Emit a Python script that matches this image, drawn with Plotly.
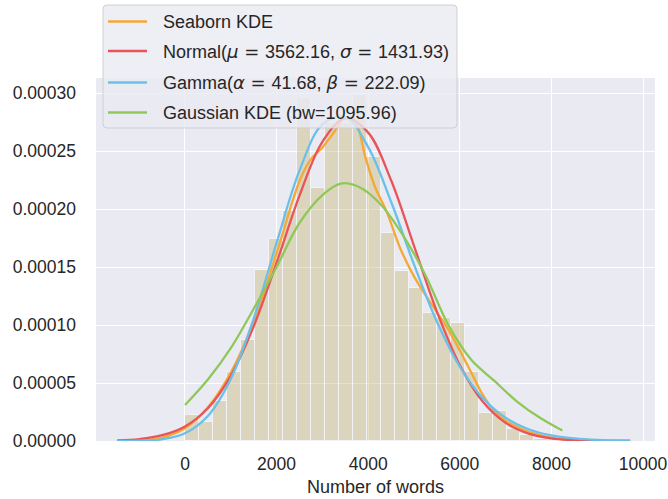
import plotly.graph_objects as go

# ---------------- data ----------------
bin_start = 0.0
bin_width = 305.2
hist_density_e5 = [2.24, 1.61, 3.48, 5.98, 8.70, 14.75, 17.40, 19.80, 29.6, 21.8,
                   27.4, 27.4, 29.8, 24.5, 17.9, 14.7, 13.2, 11.0, 10.6, 10.2,
                   5.97, 2.39, 2.61, 1.0, 0.5, 0.2, 0.2]

fit_x = [-1479, -1000, -500, 0, 500, 1000, 1500, 2000, 2500, 3000, 3500, 4000,
         4500, 5000, 5500, 6000, 6500, 7000, 7500, 8000, 8500, 9000, 9719]
normal_e5 = [0.05, 0.17, 0.50, 1.26, 2.83, 5.62, 9.88, 15.37, 21.16, 25.80, 27.83, 26.59,
             22.48, 16.83, 11.15, 6.54, 3.40, 1.56, 0.64, 0.23, 0.07, 0.02, 0.00]
gamma_e5 = [0.00, 0.02, 0.15, 0.67, 2.16, 5.35, 10.56, 17.08, 23.31, 27.30, 27.93, 25.34,
            20.63, 15.23, 10.29, 6.41, 3.70, 2.00, 1.01, 0.48, 0.22, 0.09, 0.03]

sns_kde_x = [-1479, -1000, -500, 0, 500, 1000, 1500, 2000, 2500, 2750, 3000, 3250, 3500,
             3700, 3950, 4150, 4400, 4700, 5000, 5250, 5500, 5750, 6000, 6250, 6500,
             6750, 7000, 7500, 8000, 8500, 9000, 9719]
sns_kde_e5 = [0.01, 0.05, 0.3, 1.1, 2.9, 5.9, 10.3, 16.2, 22.4, 24.3, 25.3, 26.6, 27.9,
              27.7, 24.3, 21.9, 19.8, 16.6, 14.2, 12.6, 11.1, 9.6, 7.8, 5.9, 4.0,
              2.6, 1.75, 0.8, 0.3, 0.09, 0.02, 0.0]

gkde_x = [0, 500, 1000, 1500, 2000, 2500, 3000, 3400, 3800, 4250, 4750, 5250, 5750,
          6250, 6750, 7250, 7750, 8240]
gkde_e5 = [3.1, 5.3, 8.0, 11.4, 15.0, 18.8, 21.2, 22.2, 21.9, 20.5, 17.8, 14.3, 10.0,
           7.0, 5.2, 3.4, 2.0, 0.9]

x_ticks = [0, 2000, 4000, 6000, 8000, 10000]
x_tick_text = ["0", "2000", "4000", "6000", "8000", "10000"]
x_title = "Number of words"

MATH = "font-family:'DejaVu Sans'"
series_names = ["Seaborn KDE",
                f"Normal(<span style=\"{MATH}\"><i>μ</i> = </span>3562.16, "
                f"<span style=\"{MATH}\"><i>σ</i> = </span>1431.93)",
                f"Gamma(<span style=\"{MATH}\"><i>α</i> = </span>41.68, "
                f"<span style=\"{MATH}\"><i>β</i> = </span>222.09)",
                "Gaussian KDE (bw=1095.96)"]
series_colors = ["#F5A835", "#E8545A", "#6BC0EA", "#8FC858"]

# ---------------- layout geometry (pixels) ----------------
W, H = 668, 499
ML, MR, MT, MB = 96, 13, 78, 58
PW, PH = W - ML - MR, H - MT - MB


def px_x(p):
    return (p - ML) / PW


def px_y(p):
    return (H - MB - p) / PH


def e5(v):
    return [a * 1e-5 for a in v]


centers = [bin_start + (i + 0.5) * bin_width for i in range(len(hist_density_e5))]

fig = go.Figure()
fig.add_trace(go.Bar(x=centers, y=e5(hist_density_e5), width=bin_width,
                     marker=dict(color="rgb(200,183,112)", line=dict(color="white", width=1)),
                     opacity=0.4, showlegend=False, hoverinfo="skip"))

line_w = 2.3
curves = [(sns_kde_x, sns_kde_e5), (fit_x, normal_e5), (fit_x, gamma_e5), (gkde_x, gkde_e5)]
for (xs, ys), name, col in zip(curves, series_names, series_colors):
    fig.add_trace(go.Scatter(x=xs, y=e5(ys), mode="lines", name=name, showlegend=False,
                             line=dict(color=col, width=line_w, shape="spline")))

# ---------------- hand-built legend (like matplotlib's, above the axes) ----------------
bx0, bx1, by0, by1, rad = 103, 457, 5, 128, 4
x0, x1, y0, y1 = px_x(bx0), px_x(bx1), px_y(by0), px_y(by1)
rx, ry = rad / PW, rad / PH
path = (f"M {x0 + rx},{y0} L {x1 - rx},{y0} Q {x1},{y0} {x1},{y0 - ry} "
        f"L {x1},{y1 + ry} Q {x1},{y1} {x1 - rx},{y1} L {x0 + rx},{y1} "
        f"Q {x0},{y1} {x0},{y1 + ry} L {x0},{y0 - ry} Q {x0},{y0} {x0 + rx},{y0} Z")
shapes = [dict(type="path", xref="paper", yref="paper", path=path,
               fillcolor="rgba(234,234,242,0.8)", line=dict(color="rgba(204,204,204,0.9)", width=1),
               layer="above")]
annotations = []
row_y = [21.5, 51, 82.5, 112.5]
for ry_px, name, col in zip(row_y, series_names, series_colors):
    shapes.append(dict(type="line", xref="paper", yref="paper",
                       x0=px_x(108), x1=px_x(147), y0=px_y(ry_px), y1=px_y(ry_px),
                       line=dict(color=col, width=2.6), layer="above"))
    annotations.append(dict(xref="paper", yref="paper", x=px_x(161), y=px_y(ry_px),
                            xanchor="left", yanchor="middle", showarrow=False, text=name,
                            font=dict(size=18, color="#262626")))

# x-axis title placed like matplotlib's xlabel
annotations.append(dict(xref="paper", yref="paper", x=0.5, y=px_y(487), xanchor="center",
                        yanchor="middle", showarrow=False, text=x_title,
                        font=dict(size=18, color="#262626")))

fig.update_layout(
    width=W, height=H,
    margin=dict(l=ML, r=MR, t=MT, b=MB),
    plot_bgcolor="#EAEAF2", paper_bgcolor="white",
    font=dict(family="Liberation Sans, Arial, sans-serif", size=17.5, color="#262626"),
    bargap=0, showlegend=False, hovermode=False,
    shapes=shapes, annotations=annotations,
)
fig.update_xaxes(range=[-1943, 10262], tickvals=x_ticks, ticktext=x_tick_text,
                 tickfont=dict(size=17.5),
                 showgrid=True, gridcolor="white", automargin=False, ticklabeloverflow="allow",
                 gridwidth=1.3, zeroline=False, showline=False, ticks="", ticklabelstandoff=10)
fig.update_yaxes(range=[0, 0.000313], dtick=0.00005, tick0=0, tickformat=".5f", showgrid=True,
                 tickfont=dict(size=17.5),
                 gridcolor="white", gridwidth=1.3, zeroline=True, zerolinecolor="white",
                 automargin=False, ticklabeloverflow="allow",
                 zerolinewidth=1.3, showline=False, ticks="", ticklabelstandoff=19)

# remove the browser's default 8px page margin so the figure fills the window exactly
fig.write_html("out.html", config={"displayModeBar": False},
               post_script="document.body.style.margin='0';document.body.style.overflow='hidden';")
